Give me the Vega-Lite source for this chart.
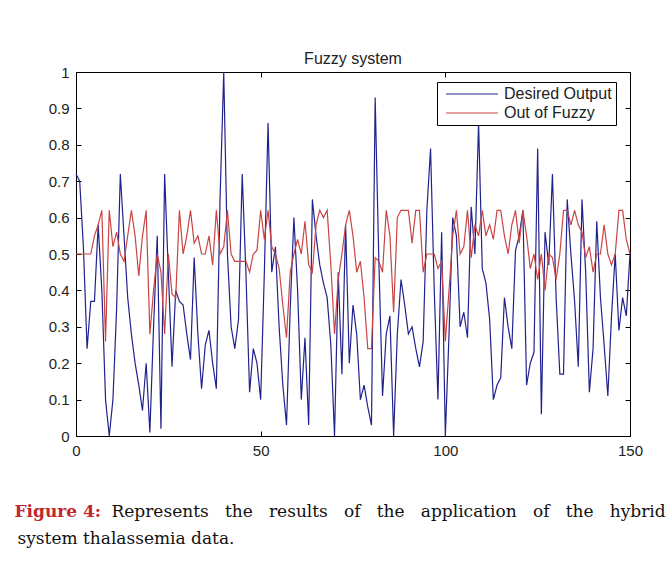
{
"$schema": "https://vega.github.io/schema/vega-lite/v6.json",
"width": 554, "height": 364,
"autosize": {"type": "none"},
"padding": {"left": 76, "top": 72, "right": 39, "bottom": 149},
"background": "white",
"title": {"text": "Fuzzy system", "font": "Liberation Sans", "fontSize": 16, "fontWeight": "normal", "color": "#222", "offset": 6, "dy": 8},
"config": {"view": {"stroke": "#000", "strokeWidth": 1}},
"data": {"values": [
{"t":0,"Desired Output":0.72,"Out of Fuzzy":0.5},{"t":1,"Desired Output":0.70,"Out of Fuzzy":0.5},{"t":2,"Desired Output":0.52,"Out of Fuzzy":0.5},{"t":3,"Desired Output":0.24,"Out of Fuzzy":0.5},{"t":4,"Desired Output":0.37,"Out of Fuzzy":0.5},{"t":5,"Desired Output":0.37,"Out of Fuzzy":0.55},{"t":6,"Desired Output":0.58,"Out of Fuzzy":0.58},{"t":7,"Desired Output":0.40,"Out of Fuzzy":0.62},{"t":8,"Desired Output":0.10,"Out of Fuzzy":0.26},{"t":9,"Desired Output":0.00,"Out of Fuzzy":0.62},
{"t":10,"Desired Output":0.10,"Out of Fuzzy":0.52},{"t":11,"Desired Output":0.35,"Out of Fuzzy":0.56},{"t":12,"Desired Output":0.72,"Out of Fuzzy":0.5},{"t":13,"Desired Output":0.55,"Out of Fuzzy":0.48},{"t":14,"Desired Output":0.38,"Out of Fuzzy":0.55},{"t":15,"Desired Output":0.28,"Out of Fuzzy":0.62},{"t":16,"Desired Output":0.20,"Out of Fuzzy":0.55},{"t":17,"Desired Output":0.14,"Out of Fuzzy":0.44},{"t":18,"Desired Output":0.07,"Out of Fuzzy":0.55},{"t":19,"Desired Output":0.20,"Out of Fuzzy":0.62},
{"t":20,"Desired Output":0.01,"Out of Fuzzy":0.28},{"t":21,"Desired Output":0.30,"Out of Fuzzy":0.4},{"t":22,"Desired Output":0.55,"Out of Fuzzy":0.5},{"t":23,"Desired Output":0.02,"Out of Fuzzy":0.45},{"t":24,"Desired Output":0.72,"Out of Fuzzy":0.28},{"t":25,"Desired Output":0.45,"Out of Fuzzy":0.5},{"t":26,"Desired Output":0.19,"Out of Fuzzy":0.39},{"t":27,"Desired Output":0.40,"Out of Fuzzy":0.38},{"t":28,"Desired Output":0.37,"Out of Fuzzy":0.62},{"t":29,"Desired Output":0.36,"Out of Fuzzy":0.5},
{"t":30,"Desired Output":0.28,"Out of Fuzzy":0.55},{"t":31,"Desired Output":0.21,"Out of Fuzzy":0.62},{"t":32,"Desired Output":0.49,"Out of Fuzzy":0.53},{"t":33,"Desired Output":0.28,"Out of Fuzzy":0.55},{"t":34,"Desired Output":0.13,"Out of Fuzzy":0.5},{"t":35,"Desired Output":0.25,"Out of Fuzzy":0.5},{"t":36,"Desired Output":0.29,"Out of Fuzzy":0.55},{"t":37,"Desired Output":0.20,"Out of Fuzzy":0.47},{"t":38,"Desired Output":0.13,"Out of Fuzzy":0.62},{"t":39,"Desired Output":0.65,"Out of Fuzzy":0.5},
{"t":40,"Desired Output":1.00,"Out of Fuzzy":0.52},{"t":41,"Desired Output":0.50,"Out of Fuzzy":0.62},{"t":42,"Desired Output":0.30,"Out of Fuzzy":0.5},{"t":43,"Desired Output":0.24,"Out of Fuzzy":0.48},{"t":44,"Desired Output":0.32,"Out of Fuzzy":0.48},{"t":45,"Desired Output":0.72,"Out of Fuzzy":0.48},{"t":46,"Desired Output":0.45,"Out of Fuzzy":0.48},{"t":47,"Desired Output":0.12,"Out of Fuzzy":0.45},{"t":48,"Desired Output":0.24,"Out of Fuzzy":0.5},{"t":49,"Desired Output":0.20,"Out of Fuzzy":0.51},
{"t":50,"Desired Output":0.10,"Out of Fuzzy":0.62},{"t":51,"Desired Output":0.45,"Out of Fuzzy":0.54},{"t":52,"Desired Output":0.86,"Out of Fuzzy":0.62},{"t":53,"Desired Output":0.45,"Out of Fuzzy":0.52},{"t":54,"Desired Output":0.52,"Out of Fuzzy":0.5},{"t":55,"Desired Output":0.30,"Out of Fuzzy":0.46},{"t":56,"Desired Output":0.14,"Out of Fuzzy":0.36},{"t":57,"Desired Output":0.03,"Out of Fuzzy":0.27},{"t":58,"Desired Output":0.35,"Out of Fuzzy":0.45},{"t":59,"Desired Output":0.60,"Out of Fuzzy":0.5},
{"t":60,"Desired Output":0.40,"Out of Fuzzy":0.54},{"t":61,"Desired Output":0.10,"Out of Fuzzy":0.5},{"t":62,"Desired Output":0.27,"Out of Fuzzy":0.59},{"t":63,"Desired Output":0.03,"Out of Fuzzy":0.47},{"t":64,"Desired Output":0.65,"Out of Fuzzy":0.45},{"t":65,"Desired Output":0.55,"Out of Fuzzy":0.58},{"t":66,"Desired Output":0.47,"Out of Fuzzy":0.62},{"t":67,"Desired Output":0.42,"Out of Fuzzy":0.6},{"t":68,"Desired Output":0.38,"Out of Fuzzy":0.62},{"t":69,"Desired Output":0.25,"Out of Fuzzy":0.47},
{"t":70,"Desired Output":0.00,"Out of Fuzzy":0.28},{"t":71,"Desired Output":0.45,"Out of Fuzzy":0.43},{"t":72,"Desired Output":0.17,"Out of Fuzzy":0.5},{"t":73,"Desired Output":0.58,"Out of Fuzzy":0.58},{"t":74,"Desired Output":0.20,"Out of Fuzzy":0.62},{"t":75,"Desired Output":0.36,"Out of Fuzzy":0.55},{"t":76,"Desired Output":0.28,"Out of Fuzzy":0.45},{"t":77,"Desired Output":0.10,"Out of Fuzzy":0.48},{"t":78,"Desired Output":0.14,"Out of Fuzzy":0.38},{"t":79,"Desired Output":0.08,"Out of Fuzzy":0.24},
{"t":80,"Desired Output":0.03,"Out of Fuzzy":0.24},{"t":81,"Desired Output":0.93,"Out of Fuzzy":0.49},{"t":82,"Desired Output":0.48,"Out of Fuzzy":0.48},{"t":83,"Desired Output":0.11,"Out of Fuzzy":0.45},{"t":84,"Desired Output":0.28,"Out of Fuzzy":0.62},{"t":85,"Desired Output":0.33,"Out of Fuzzy":0.55},{"t":86,"Desired Output":0.00,"Out of Fuzzy":0.34},{"t":87,"Desired Output":0.28,"Out of Fuzzy":0.6},{"t":88,"Desired Output":0.43,"Out of Fuzzy":0.62},{"t":89,"Desired Output":0.36,"Out of Fuzzy":0.62},
{"t":90,"Desired Output":0.28,"Out of Fuzzy":0.62},{"t":91,"Desired Output":0.30,"Out of Fuzzy":0.53},{"t":92,"Desired Output":0.24,"Out of Fuzzy":0.62},{"t":93,"Desired Output":0.19,"Out of Fuzzy":0.62},{"t":94,"Desired Output":0.26,"Out of Fuzzy":0.45},{"t":95,"Desired Output":0.62,"Out of Fuzzy":0.5},{"t":96,"Desired Output":0.79,"Out of Fuzzy":0.5},{"t":97,"Desired Output":0.40,"Out of Fuzzy":0.5},{"t":98,"Desired Output":0.10,"Out of Fuzzy":0.46},{"t":99,"Desired Output":0.56,"Out of Fuzzy":0.48},
{"t":100,"Desired Output":0.00,"Out of Fuzzy":0.26},{"t":101,"Desired Output":0.28,"Out of Fuzzy":0.4},{"t":102,"Desired Output":0.60,"Out of Fuzzy":0.55},{"t":103,"Desired Output":0.55,"Out of Fuzzy":0.62},{"t":104,"Desired Output":0.30,"Out of Fuzzy":0.5},{"t":105,"Desired Output":0.34,"Out of Fuzzy":0.52},{"t":106,"Desired Output":0.27,"Out of Fuzzy":0.62},{"t":107,"Desired Output":0.63,"Out of Fuzzy":0.49},{"t":108,"Desired Output":0.50,"Out of Fuzzy":0.58},{"t":109,"Desired Output":0.86,"Out of Fuzzy":0.55},
{"t":110,"Desired Output":0.46,"Out of Fuzzy":0.62},{"t":111,"Desired Output":0.42,"Out of Fuzzy":0.55},{"t":112,"Desired Output":0.32,"Out of Fuzzy":0.58},{"t":113,"Desired Output":0.10,"Out of Fuzzy":0.54},{"t":114,"Desired Output":0.14,"Out of Fuzzy":0.62},{"t":115,"Desired Output":0.16,"Out of Fuzzy":0.62},{"t":116,"Desired Output":0.38,"Out of Fuzzy":0.55},{"t":117,"Desired Output":0.30,"Out of Fuzzy":0.5},{"t":118,"Desired Output":0.24,"Out of Fuzzy":0.58},{"t":119,"Desired Output":0.51,"Out of Fuzzy":0.62},
{"t":120,"Desired Output":0.55,"Out of Fuzzy":0.53},{"t":121,"Desired Output":0.62,"Out of Fuzzy":0.62},{"t":122,"Desired Output":0.14,"Out of Fuzzy":0.55},{"t":123,"Desired Output":0.20,"Out of Fuzzy":0.46},{"t":124,"Desired Output":0.23,"Out of Fuzzy":0.5},{"t":125,"Desired Output":0.79,"Out of Fuzzy":0.43},{"t":126,"Desired Output":0.06,"Out of Fuzzy":0.5},{"t":127,"Desired Output":0.56,"Out of Fuzzy":0.4},{"t":128,"Desired Output":0.47,"Out of Fuzzy":0.5},{"t":129,"Desired Output":0.72,"Out of Fuzzy":0.49},
{"t":130,"Desired Output":0.38,"Out of Fuzzy":0.43},{"t":131,"Desired Output":0.17,"Out of Fuzzy":0.5},{"t":132,"Desired Output":0.17,"Out of Fuzzy":0.62},{"t":133,"Desired Output":0.65,"Out of Fuzzy":0.62},{"t":134,"Desired Output":0.50,"Out of Fuzzy":0.58},{"t":135,"Desired Output":0.37,"Out of Fuzzy":0.62},{"t":136,"Desired Output":0.19,"Out of Fuzzy":0.58},{"t":137,"Desired Output":0.65,"Out of Fuzzy":0.56},{"t":138,"Desired Output":0.45,"Out of Fuzzy":0.49},{"t":139,"Desired Output":0.12,"Out of Fuzzy":0.52},
{"t":140,"Desired Output":0.24,"Out of Fuzzy":0.45},{"t":141,"Desired Output":0.59,"Out of Fuzzy":0.5},{"t":142,"Desired Output":0.38,"Out of Fuzzy":0.5},{"t":143,"Desired Output":0.25,"Out of Fuzzy":0.58},{"t":144,"Desired Output":0.11,"Out of Fuzzy":0.5},{"t":145,"Desired Output":0.33,"Out of Fuzzy":0.47},{"t":146,"Desired Output":0.50,"Out of Fuzzy":0.5},{"t":147,"Desired Output":0.29,"Out of Fuzzy":0.62},{"t":148,"Desired Output":0.38,"Out of Fuzzy":0.62},{"t":149,"Desired Output":0.33,"Out of Fuzzy":0.54},
{"t":150,"Desired Output":0.50,"Out of Fuzzy":0.5}
]},
"layer": [
{
"transform": [{"fold": ["Desired Output", "Out of Fuzzy"], "as": ["series", "value"]}],
"mark": {"type": "line", "strokeWidth": 1.2},
"encoding": {
"x": {"field": "t", "type": "quantitative", "scale": {"domain": [0, 150], "nice": false, "zero": false},
 "axis": {"orient": "bottom", "values": [0, 50, 100, 150], "grid": false, "domain": false, "offset": -5, "tickSize": 5, "tickColor": "#000", "tickWidth": 1, "labelPadding": 7, "labelFlush": false, "labelOverlap": false, "labelFont": "Liberation Sans", "labelFontSize": 15, "labelColor": "#222",
  "title": "Represents\u00a0\u00a0 the\u00a0\u00a0 results\u00a0\u00a0 of\u00a0\u00a0 the\u00a0\u00a0 application\u00a0\u00a0 of\u00a0\u00a0 the\u00a0\u00a0 hybrid", "titleX": 35, "titleY": 85, "titleAlign": "left", "titleAnchor": "start", "titleBaseline": "alphabetic", "titleFont": "DejaVu Serif", "titleFontSize": 17, "titleFontWeight": "normal", "titleColor": "#111"}},
"y": {"field": "value", "type": "quantitative", "scale": {"domain": [0, 1], "nice": false},
 "axis": {"orient": "left", "values": [0, 0.1, 0.2, 0.3, 0.4, 0.5, 0.6, 0.7, 0.8, 0.9, 1], "format": "~g", "grid": false, "domain": false, "offset": -5, "tickSize": 5, "tickColor": "#000", "tickWidth": 1, "labelPadding": 7, "labelOverlap": false, "labelFlush": false, "labelFont": "Liberation Sans", "labelFontSize": 15, "labelColor": "#222",
  "title": "Figure 4:", "titleAngle": 0, "titleX": -67, "titleY": 444, "titleAlign": "left", "titleAnchor": "start", "titleBaseline": "alphabetic", "titleFont": "DejaVu Serif", "titleFontSize": 17, "titleFontWeight": "bold", "titleColor": "#c1272d"}},
"color": {"field": "series", "type": "nominal", "scale": {"domain": ["Desired Output", "Out of Fuzzy"], "range": ["#22228f", "#c94444"]},
 "legend": {"orient": "none", "legendX": 361, "legendY": 10, "title": null, "symbolType": "M-1.5,0H24.5", "symbolSize": 16, "symbolStrokeWidth": 1.2, "labelFont": "Liberation Sans", "labelFontSize": 16, "labelColor": "#222", "strokeColor": "#000", "fillColor": "white", "padding": 4, "rowPadding": 3, "labelOffset": 47}}
}
},
{
"mark": {"type": "line", "opacity": 0},
"encoding": {
"x": {"field": "t", "type": "quantitative", "scale": {"domain": [0, 150], "nice": false, "zero": false},
 "axis": {"orient": "top", "values": [0, 50, 100, 150], "grid": false, "domain": false, "labels": false, "offset": -5, "tickSize": 5, "tickColor": "#000", "tickWidth": 1, "title": null}},
"y": {"field": "Out of Fuzzy", "type": "quantitative", "scale": {"domain": [0, 1], "nice": false},
 "axis": {"orient": "right", "values": [0, 0.1, 0.2, 0.3, 0.4, 0.5, 0.6, 0.7, 0.8, 0.9, 1], "grid": false, "domain": false, "labels": false, "offset": -5, "tickSize": 5, "tickColor": "#000", "tickWidth": 1,
  "title": "system thalassemia data.", "titleAngle": 0, "titleX": -608, "titleY": 471, "titleAlign": "left", "titleAnchor": "start", "titleBaseline": "alphabetic", "titleFont": "DejaVu Serif", "titleFontSize": 17, "titleFontWeight": "normal", "titleColor": "#111"}}
}
}
],
"resolve": {"scale": {"x": "independent", "y": "independent"}}
}
